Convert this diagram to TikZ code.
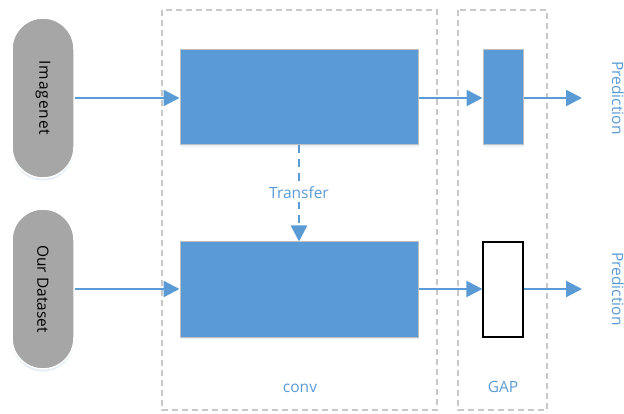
\documentclass[tikz,border=0pt]{standalone}
\usepackage{fontspec}
\setmainfont{Open Sans}
\usetikzlibrary{arrows.meta,shadows}
\definecolor{cblue}{HTML}{5B9BD5}
\definecolor{cgray}{HTML}{A6A6A6}
\definecolor{cdash}{HTML}{C8C8C8}
\definecolor{cedge}{HTML}{BFBFBF}
\tikzset{
  pill/.style={draw=white, line width=1.5pt, fill=cgray, minimum width=62pt, minimum height=160pt, rounded corners=31pt, inner sep=0pt, drop shadow={shadow xshift=0pt, shadow yshift=-2.5pt, fill=cblue!30, opacity=0.6}},
  blockbox/.style={draw=cedge, line width=1pt, fill=cblue, inner sep=0pt, drop shadow={shadow xshift=1pt, shadow yshift=-2pt, fill=cblue!20, opacity=0.6}},
  gapwhite/.style={draw=black, line width=1.3pt, fill=white, inner sep=0pt, minimum width=40pt, minimum height=95pt},
  arr/.style={draw=cblue, line width=2.4pt, -{Triangle[length=16pt,width=16pt]}},
  dasharr/.style={draw=cblue, line width=2.4pt, dash pattern=on 8pt off 6pt, -{Triangle[length=16pt,width=16pt]}},
  region/.style={draw=cdash, line width=1.5pt, dash pattern=on 6pt off 4pt},
  bluelabel/.style={text=cblue, font=\fontsize{15.5}{18}\selectfont},
  pilltext/.style={rotate=-90, font=\fontsize{15.5}{18}\selectfont, text=black},
}
\begin{document}
\begin{tikzpicture}[x=1pt,y=-1pt]
\useasboundingbox (0,0) rectangle (624,414);
% dashed regions
\draw[region] (162,10) rectangle (437,410);
\draw[region] (458,10) rectangle (547,410);
\node[bluelabel, anchor=base] (convlbl) at (300,392) {conv};
\node[bluelabel, anchor=base] (gaplbl) at (503,392) {GAP};
% pills
\node[pill] (img) at (43,98) {};
\node[pilltext] (imgt) at (img.center) {\addfontfeature{LetterSpace=6}Imagenet};
\node[pill] (our) at (43,289) {};
\node[pilltext] (ourt) at (our.center) {Our Dataset};
% conv blocks
\node[blockbox, minimum width=238pt, minimum height=95pt] (c1) at (299,97.5) {};
\node[blockbox, minimum width=238pt, minimum height=95pt] (c2) at (299,289.5) {};
% gap blocks
\node[blockbox, minimum width=40pt, minimum height=95pt] (g1) at (503,97.5) {};
\node[gapwhite] (g2) at (503,289.5) {};
% prediction
\coordinate (p1) at (582,98);
\coordinate (p2) at (582,289);
\node[bluelabel, rotate=-90] (pt1) at (618,98) {Prediction};
\node[bluelabel, rotate=-90] (pt2) at (618,289) {Prediction};
% arrows
\draw[arr] (img.east |- 0,98) -- (c1.west |- 0,98);
\draw[arr] (c1.east |- 0,98) -- (g1.west |- 0,98);
\draw[arr] (g1.east |- 0,98) -- (p1);
\draw[arr] (our.east |- 0,289) -- (c2.west |- 0,289);
\draw[arr] (c2.east |- 0,289) -- (g2.west |- 0,289);
\draw[arr] (g2.east |- 0,289) -- (p2);
% transfer
\draw[dasharr] (c1.south) -- (c2.north);
\node[bluelabel, fill=white, inner sep=3pt] (tr) at (299,193) {Transfer};
\end{tikzpicture}
\end{document}
